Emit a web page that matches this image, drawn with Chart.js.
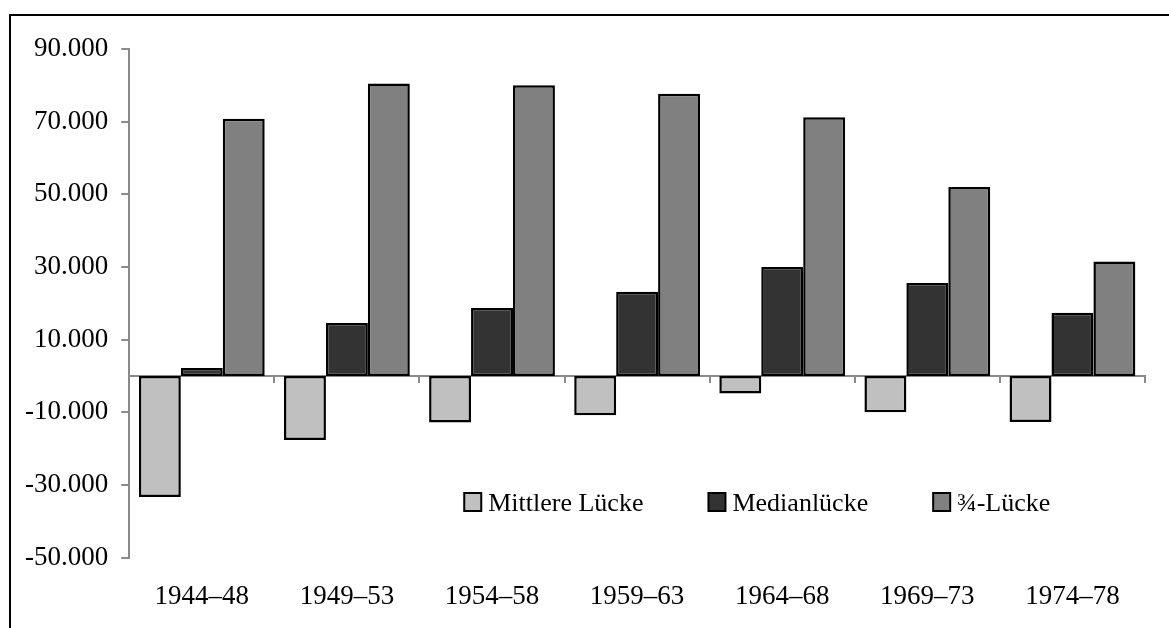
<!DOCTYPE html>
<html>
<head>
<meta charset="utf-8">
<title>Lücken 1944-78</title>
<style>
body { margin:0; background:white; overflow:hidden; }
#frame {
    position:absolute;
    left:9px; top:14px;
    width:1170px; height:620px;
    border-top:2px solid black;
    border-left:2px solid black;
}
#wrap { position:absolute; left:0; top:0; width:1169px; height:636px; }
</style>
</head>
<body>
<div id="frame"></div>
<div id="wrap"><canvas id="myChart"></canvas></div>
<script src="https://cdn.jsdelivr.net/npm/chart.js@4/dist/chart.umd.min.js"></script>
<script>
var periods = ['1944\u201348', '1949\u201353', '1954\u201358', '1959\u201363', '1964\u201368', '1969\u201373', '1974\u201378'];
var mittlereLuecke = [-33300, -17600, -12800, -10800, -4800, -10000, -12700];
var medianLuecke   = [2200, 14600, 18700, 23200, 30000, 25600, 17400];
var dreiviertelLuecke = [70800, 80500, 80000, 77700, 71200, 52000, 31500];
var yTicks = [-50000, -30000, -10000, 10000, 30000, 50000, 70000, 90000];

var FONT = 'Liberation Serif';
var FSIZE = 27;
var LEGEND_FSIZE = 26;

function fmt(v) {
    var s = Math.abs(v).toString().replace(/\B(?=(\d{3})+(?!\d))/g, '.');
    return (v < 0 ? '-' : '') + s;
}

// legend drawn inside the plot area
var legendInside = {
    id: 'legendInside',
    afterDraw: function(chart) {
        var ctx = chart.ctx;
        var area = chart.chartArea;
        var x = area.left + 335;
        var yBox = 493;
        ctx.save();
        ctx.font = LEGEND_FSIZE + 'px "' + FONT + '"';
        ctx.textBaseline = 'alphabetic';
        chart.data.datasets.forEach(function(ds) {
            ctx.fillStyle = ds.backgroundColor;
            ctx.fillRect(x, yBox, 17, 18);
            ctx.lineWidth = 2;
            ctx.strokeStyle = 'black';
            ctx.strokeRect(x, yBox, 17, 18);
            ctx.fillStyle = 'black';
            ctx.fillText(ds.label, x + 24, yBox + 18);
            x += 24 + ctx.measureText(ds.label).width + 65;
        });
        ctx.restore();
    }
};

var config = {
    type: 'bar',
    data: {
        labels: periods,
        datasets: [{
            label: 'Mittlere L\u00fccke',
            data: mittlereLuecke,
            backgroundColor: '#c0c0c0'
        }, {
            label: 'Medianl\u00fccke',
            data: medianLuecke,
            backgroundColor: '#333333'
        }, {
            label: '\u00be-L\u00fccke',
            data: dreiviertelLuecke,
            backgroundColor: '#808080'
        }]
    },
    options: {
        responsive: true,
        maintainAspectRatio: false,
        animation: false,
        layout: { padding: { left: 12, right: 24, top: 49, bottom: 0 } },
        datasets: {
            bar: {
                borderColor: 'black',
                borderWidth: 2.5,
                borderSkipped: false,
                categoryPercentage: 0.867,
                barPercentage: 1.0
            }
        },
        plugins: {
            legend: { display: false },
            tooltip: { enabled: false }
        },
        scales: {
            x: {
                type: 'category',
                offset: true,
                border: { display: false },
                grid: { display: false, drawTicks: false, offset: true },
                ticks: {
                    color: 'black',
                    padding: 23,
                    font: { family: FONT, size: FSIZE },
                    maxRotation: 0
                }
            },
            x0: {
                type: 'category',
                labels: periods,
                position: { y: 0 },
                offset: true,
                border: { display: true, color: '#8a8a8a', width: 2 },
                grid: { drawOnChartArea: false, offset: true, color: '#8a8a8a', lineWidth: 2, tickLength: 6 },
                ticks: { display: false }
            },
            y: {
                min: -50000,
                max: 90000,
                border: { display: true, color: '#8a8a8a', width: 2 },
                grid: { drawOnChartArea: false, color: '#8a8a8a', lineWidth: 2, tickLength: 8 },
                afterBuildTicks: function(axis) {
                    axis.ticks = yTicks.map(function(v) { return { value: v }; });
                },
                ticks: {
                    color: 'black',
                    padding: 13,
                    font: { family: FONT, size: FSIZE },
                    callback: function(v) { return fmt(v); }
                }
            }
        }
    },
    plugins: [legendInside]
};

window.onload = function() {
    var ctx = document.getElementById('myChart').getContext('2d');
    window.myBar = new Chart(ctx, config);
};
</script>
</body>
</html>
